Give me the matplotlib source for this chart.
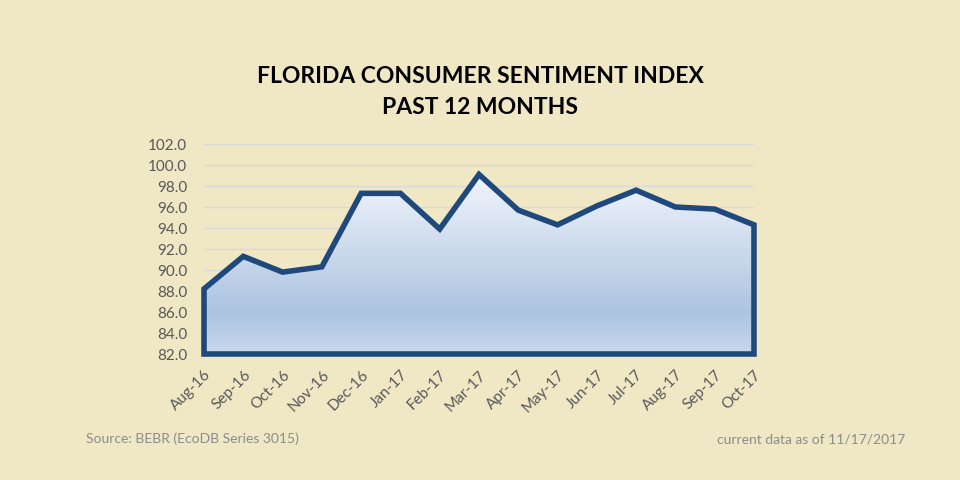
import numpy as np
import matplotlib
matplotlib.use("Agg")
import matplotlib.pyplot as plt
from matplotlib.colors import LinearSegmentedColormap
from matplotlib.patches import Polygon

months = ["Aug-16", "Sep-16", "Oct-16", "Nov-16", "Dec-16", "Jan-17", "Feb-17",
          "Mar-17", "Apr-17", "May-17", "Jun-17", "Jul-17", "Aug-17", "Sep-17",
          "Oct-17"]
sentiment = [88.2, 91.3, 89.8, 90.3, 97.3, 97.3, 93.9,
             99.1, 95.7, 94.3, 96.1, 97.6, 96.0, 95.8, 94.3]
y_ticks = np.arange(82.0, 102.1, 2.0)

BG = "#f0e7c5"
LINE = "#1f497d"

plt.rcParams["font.family"] = ["Lato", "DejaVu Sans"]

fig = plt.figure(figsize=(9.6, 4.8), dpi=100, facecolor=BG)
ax = fig.add_axes([0.2125, 0.2625, 0.5729, 0.4375])
ax.set_facecolor(BG)

x = np.arange(len(months))
ymin = 82.0
ax.set_xlim(0, len(months) - 1)
ax.set_ylim(ymin, 102.0)

# gradient fill clipped to the area shape
verts = [(0, ymin)] + list(zip(x, sentiment)) + [(x[-1], ymin)]
cmap = LinearSegmentedColormap.from_list(
    "fill", [(0.0, "#f1f5fc"), (0.77, "#adc4e1"), (1.0, "#c8d8ec")])
grad = np.linspace(0, 1, 256).reshape(-1, 1)
im = ax.imshow(grad, cmap=cmap, aspect="auto", origin="upper",
               extent=[0, x[-1], ymin, max(sentiment)], zorder=2)
clip = Polygon(verts, closed=True, transform=ax.transData, facecolor="none")
ax.add_patch(clip)
im.set_clip_path(clip)
clip.set_visible(False)

outline = Polygon(verts, closed=True, facecolor="none", edgecolor=LINE,
                  linewidth=4.0, joinstyle="miter", zorder=3, clip_on=False)
ax.add_patch(outline)

ax.set_yticks(y_ticks)
ax.set_yticklabels([f"{v:.1f}" for v in y_ticks])
ax.set_xticks(x)
ax.set_xticklabels(months, rotation=45, ha="right", rotation_mode="anchor")
ax.tick_params(length=0, labelsize=11, labelcolor="#595959")
ax.tick_params(axis="x", pad=10)
ax.tick_params(axis="y", pad=12)
ax.grid(axis="y", color="#d9d9d9", linewidth=1, zorder=1)
ax.set_axisbelow(True)
for s in ax.spines.values():
    s.set_visible(False)

fig.text(0.5, 1 - 76.5 / 480, "FLORIDA CONSUMER SENTIMENT INDEX",
         ha="center", va="center", fontsize=16.5, fontweight="bold", color="black")
fig.text(0.5, 1 - 107.5 / 480, "PAST 12 MONTHS",
         ha="center", va="center", fontsize=16.5, fontweight="bold", color="black")

fig.text(86 / 960, 1 - 439 / 480, "Source: BEBR (EcoDB Series 3015)",
         ha="left", va="center", fontsize=10, color="#8c8c8c")
fig.text(905 / 960, 1 - 439 / 480, "current data as of 11/17/2017",
         ha="right", va="center", fontsize=10, color="#8c8c8c")

fig.savefig("out.png", dpi=100, facecolor=BG)
